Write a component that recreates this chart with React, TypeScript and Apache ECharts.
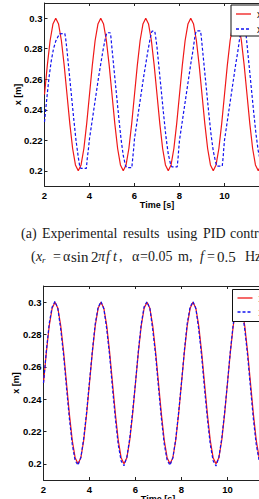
import React, { useEffect, useRef } from "react";
import * as echarts from "echarts";

// ---------- data ----------
const xTicks = [2, 4, 6, 8, 10, 12];
const yTicks = [0.2, 0.22, 0.24, 0.26, 0.28, 0.3];
const yTickLabels = ["0.2", "0.22", "0.24", "0.26", "0.28", "0.3"];
const legendNames = ["x", "x"];
const legendSubs = ["r", ""];

// reference x_r sampled every 0.125 s from t = 2 s
const refStart = 2;
const refStep = 0.125;
const refValues = [
  0.25, 0.2691, 0.2854, 0.2962, 0.3, 0.2962, 0.2854, 0.2691, 0.25, 0.2309, 0.2146, 0.2038, 0.2, 0.2038, 0.2146, 0.2309,
  0.25, 0.2691, 0.2854, 0.2962, 0.3, 0.2962, 0.2854, 0.2691, 0.25, 0.2309, 0.2146, 0.2038, 0.2, 0.2038, 0.2146, 0.2309,
  0.25, 0.2691, 0.2854, 0.2962, 0.3, 0.2962, 0.2854, 0.2691, 0.25, 0.2309, 0.2146, 0.2038, 0.2, 0.2038, 0.2146, 0.2309,
  0.25, 0.2691, 0.2854, 0.2962, 0.3, 0.2962, 0.2854, 0.2691, 0.25, 0.2309, 0.2146, 0.2038, 0.2, 0.2038, 0.2146, 0.2309,
  0.25, 0.2691, 0.2854, 0.2962, 0.3, 0.2962, 0.2854, 0.2691, 0.25, 0.2309, 0.2146, 0.2038, 0.2, 0.2038, 0.2146, 0.2309,
  0.25,
];

// (a) PID control: measured x
const pidTimes = [
  2.0, 2.1, 2.2, 2.3, 2.4, 2.5, 2.6, 2.68, 2.9, 2.93, 3.0, 3.1, 3.2, 3.3, 3.4, 3.5, 3.57, 3.62, 3.86,
  3.9, 3.95, 4.0, 4.1, 4.2, 4.3, 4.4, 4.5, 4.6, 4.7, 4.75, 4.78, 4.92, 4.95, 5.0, 5.1, 5.2, 5.3, 5.4, 5.5, 5.6, 5.65, 5.88,
  5.92, 5.96, 6.0, 6.1, 6.2, 6.3, 6.4, 6.5, 6.6, 6.7, 6.75, 6.78, 6.9, 6.93, 7.0, 7.1, 7.2, 7.3, 7.4, 7.5, 7.6, 7.66, 7.9,
  7.94, 7.97, 8.0, 8.1, 8.2, 8.3, 8.4, 8.5, 8.6, 8.68, 8.72, 8.75, 8.93, 8.96, 9.0, 9.1, 9.2, 9.3, 9.4, 9.5, 9.6, 9.66, 9.9,
  9.94, 9.97, 10.0, 10.1, 10.2, 10.3, 10.4, 10.5, 10.6, 10.68, 10.72, 10.75, 10.93, 10.96, 11.0, 11.1, 11.2, 11.3, 11.4, 11.5, 11.6, 11.66, 11.9,
  11.94, 12.0,
];
const pidValues = [
  0.232, 0.247, 0.261, 0.272, 0.28, 0.285, 0.288, 0.2898, 0.29, 0.288, 0.279, 0.264, 0.249, 0.234, 0.22, 0.209, 0.2025, 0.2015, 0.2015,
  0.208, 0.214, 0.221, 0.231, 0.241, 0.251, 0.261, 0.27, 0.279, 0.2865, 0.2895, 0.2905, 0.2905, 0.288, 0.28, 0.265, 0.25, 0.235, 0.221, 0.21, 0.2035, 0.202, 0.202,
  0.208, 0.214, 0.221, 0.231, 0.241, 0.251, 0.261, 0.27, 0.279, 0.287, 0.2905, 0.2915, 0.2915, 0.289, 0.281, 0.266, 0.251, 0.236, 0.222, 0.211, 0.2045, 0.2026, 0.2026,
  0.209, 0.215, 0.22, 0.23, 0.24, 0.25, 0.26, 0.27, 0.279, 0.2875, 0.2905, 0.2917, 0.2917, 0.289, 0.283, 0.268, 0.253, 0.238, 0.224, 0.213, 0.206, 0.203, 0.203,
  0.209, 0.215, 0.22, 0.23, 0.24, 0.25, 0.26, 0.27, 0.279, 0.2875, 0.2905, 0.2917, 0.2917, 0.289, 0.283, 0.268, 0.253, 0.238, 0.224, 0.213, 0.206, 0.203, 0.203,
  0.209, 0.22,
];

// (b) measured x, sampled every 0.125 s from t = 2 s
const trackValues = [
  0.25, 0.27, 0.287, 0.297, 0.3005, 0.296, 0.283, 0.267, 0.247, 0.228, 0.212, 0.202, 0.1992, 0.204, 0.216, 0.232,
  0.251, 0.27, 0.2868, 0.2968, 0.3004, 0.2958, 0.2832, 0.2668, 0.2468, 0.2278, 0.2118, 0.2018, 0.1988, 0.2042, 0.2158, 0.2322,
  0.2505, 0.2698, 0.2866, 0.2972, 0.3003, 0.2962, 0.2828, 0.2672, 0.247, 0.2282, 0.2122, 0.2022, 0.1991, 0.2038, 0.2155, 0.2318,
  0.2502, 0.2702, 0.287, 0.297, 0.3004, 0.296, 0.283, 0.2665, 0.2466, 0.228, 0.212, 0.2019, 0.1987, 0.204, 0.2158, 0.232,
  0.2504, 0.2698, 0.2866, 0.2968, 0.3003, 0.2958, 0.2832, 0.2668, 0.2468, 0.2278, 0.2118, 0.202, 0.199, 0.2038, 0.2156, 0.232,
  0.2502,
];

const refData = refValues.map((v, i) => [refStart + i * refStep, v]);
const pidData = pidTimes.map((t, i) => [t, pidValues[i]]);
const trackData = trackValues.map((v, i) => [refStart + i * refStep, v]);

// ---------- styles ----------
const RED = "#f01818";
const BLUE = "#1010f0";
const SANS = "Liberation Sans";
const SERIF = "Liberation Serif";

function makeAxes(gridIndex: number) {
  const common = {
    gridIndex,
    type: "value" as const,
    min: 2,
    max: 12,
    axisLine: { show: true, lineStyle: { color: "#222", width: 1 } },
    splitLine: { show: false },
  };
  const xBottom = {
    ...common,
    position: "bottom",
    axisTick: { show: true, inside: true, length: 3, customValues: xTicks, lineStyle: { color: "#222" } },
    axisLabel: {
      show: true,
      customValues: xTicks,
      margin: 4,
      fontFamily: SANS,
      fontWeight: "bold",
      fontSize: 9.5,
      color: "#000",
    },
  };
  const xTop = {
    ...common,
    position: "top",
    axisTick: { show: true, inside: true, length: 3, customValues: xTicks, lineStyle: { color: "#222" } },
    axisLabel: { show: false },
  };
  const y = {
    gridIndex,
    type: "value" as const,
    min: 0.19,
    max: 0.31,
    position: "left",
    axisLine: { show: true, lineStyle: { color: "#222", width: 1 } },
    splitLine: { show: false },
    axisTick: { show: true, inside: true, length: 3, customValues: yTicks, lineStyle: { color: "#222" } },
    axisLabel: {
      show: true,
      customValues: yTicks,
      margin: 2,
      fontFamily: SANS,
      fontWeight: "bold",
      fontSize: 9.5,
      color: "#000",
      formatter: (v: number) => {
        const idx = yTicks.findIndex((t) => Math.abs(t - v) < 1e-6);
        return idx >= 0 ? yTickLabels[idx] : "";
      },
    },
  };
  return { xBottom, xTop, y };
}

function txt(text: string, x: number, y: number, style: any = {}, extra: any = {}) {
  return {
    type: "text",
    x,
    y,
    silent: true,
    ...extra,
    style: {
      text,
      fill: "#1a1a1a",
      fontFamily: SERIF,
      fontSize: 14,
      verticalAlign: "middle",
      align: "left",
      ...style,
    },
  };
}

function legendBox(left: number, top: number, h: number, y1: number, y2: number) {
  const lx = left + 5;
  const tStyle = { fontFamily: SANS, fontSize: 10, fill: "#000" };
  return [
    {
      type: "rect",
      z: 100,
      shape: { x: left, y: top, width: 60, height: h },
      style: { fill: "#fff", stroke: "#111", lineWidth: 1 },
    },
    {
      type: "line",
      z: 101,
      shape: { x1: lx, y1, x2: lx + 15, y2: y1 },
      style: { stroke: RED, lineWidth: 1.3 },
    },
    {
      type: "line",
      z: 101,
      shape: { x1: lx, y1: y2, x2: lx + 15, y2: y2 },
      style: { stroke: BLUE, lineWidth: 1.3, lineDash: [3, 2] },
    },
    { ...txt(legendNames[0], lx + 21, y1, tStyle), z: 101 },
    { ...txt(legendSubs[0], lx + 27, y1 + 3, { ...tStyle, fontSize: 7 }), z: 101 },
    { ...txt(legendNames[1], lx + 21, y2, tStyle), z: 101 },
  ];
}

export default function App() {
  const ref = useRef<HTMLDivElement>(null);
  useEffect(() => {
    if (!ref.current) return;
    const chart = echarts.init(ref.current, undefined, { renderer: "svg" });
    const a = makeAxes(0);
    const b = makeAxes(1);
    const option: any = {
      animation: false,
      backgroundColor: "#fff",
      grid: [
        { left: 44.5, top: 3, width: 225, height: 183, outerBoundsMode: "none", containLabel: false },
        { left: 43.5, top: 286, width: 230, height: 194, outerBoundsMode: "none", containLabel: false },
      ],
      xAxis: [a.xBottom, a.xTop, b.xBottom, b.xTop],
      yAxis: [a.y, b.y],
      series: [
        {
          name: "xr (a)",
          type: "line",
          xAxisIndex: 0,
          yAxisIndex: 0,
          data: refData,
          symbol: "none",
          lineStyle: { color: RED, width: 1.2 },
          itemStyle: { color: RED },
          z: 2,
        },
        {
          name: "x (a)",
          type: "line",
          xAxisIndex: 0,
          yAxisIndex: 0,
          data: pidData,
          symbol: "none",
          lineStyle: { color: BLUE, width: 1.2, type: [3, 2] },
          itemStyle: { color: BLUE },
          z: 3,
        },
        {
          name: "xr (b)",
          type: "line",
          xAxisIndex: 2,
          yAxisIndex: 1,
          data: refData,
          symbol: "none",
          lineStyle: { color: RED, width: 1.2 },
          itemStyle: { color: RED },
          z: 2,
        },
        {
          name: "x (b)",
          type: "line",
          xAxisIndex: 2,
          yAxisIndex: 1,
          data: trackData,
          symbol: "none",
          lineStyle: { color: BLUE, width: 1.2, type: [3, 2] },
          itemStyle: { color: BLUE },
          z: 3,
        },
      ],
      graphic: [
        // legends
        ...legendBox(231, 5, 31, 14, 29),
        ...legendBox(232.5, 289.5, 32, 298, 312),
        // axis titles
        txt("Time [s]", 157, 205, { fontFamily: SANS, fontWeight: "bold", fontSize: 9, align: "center", fill: "#000" }),
        txt("x [m]", 18, 94.5, { fontFamily: SANS, fontWeight: "bold", fontSize: 9, align: "center", fill: "#000" }, { rotation: Math.PI / 2 }),
        txt("Time [s]", 158, 498.5, { fontFamily: SANS, fontWeight: "bold", fontSize: 9, align: "center", fill: "#000" }),
        txt("x [m]", 16, 383, { fontFamily: SANS, fontWeight: "bold", fontSize: 9, align: "center", fill: "#000" }, { rotation: Math.PI / 2 }),
        // caption line 1
        txt("(a)", 21, 233),
        txt("Experimental", 42, 233),
        txt("results", 123, 233),
        txt("using", 167, 233),
        txt("PID", 203, 233),
        txt("controller", 230, 233),
        // caption line 2
        txt("(", 31, 256.5),
        txt("x", 36, 256.5, { fontStyle: "italic" }),
        txt("r", 42, 260, { fontStyle: "italic", fontSize: 9 }),
        txt("=", 53, 256.5),
        txt("α", 63, 256.5),
        txt("sin", 71, 256.5, { fontSize: 15 }),
        txt("2", 91, 256.5, { fontSize: 15 }),
        txt("π", 98, 256.5, { fontStyle: "italic" }),
        txt("f", 106, 256.5, { fontStyle: "italic" }),
        txt("t", 113, 256.5, { fontStyle: "italic" }),
        txt(",", 119, 256.5),
        txt("α", 132, 256.5),
        txt("=0.05", 140, 256.5),
        txt("m,", 178, 256.5),
        txt("f", 200, 256.5, { fontStyle: "italic" }),
        txt("=", 207, 256.5),
        txt("0.5", 217, 256.5, { fontSize: 15 }),
        txt("Hz)", 245, 256.5),
      ],
    };
    chart.setOption(option);
    return () => chart.dispose();
  }, []);
  return (
    <div
      ref={ref}
      style={{ position: "absolute", left: 0, top: 0, width: 259, height: 499, background: "#fff" }}
    />
  );
}
